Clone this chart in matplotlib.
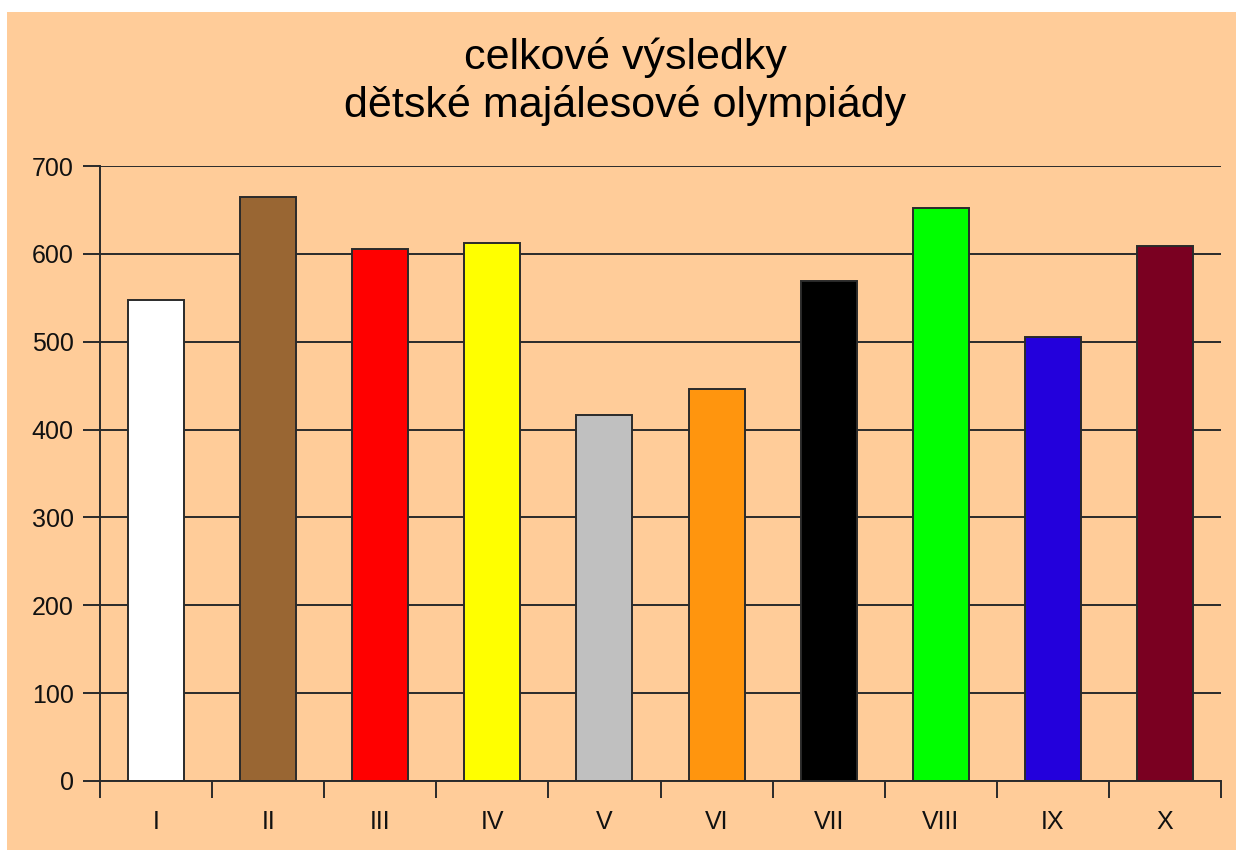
import matplotlib
matplotlib.use("Agg")
import matplotlib.pyplot as plt
from matplotlib.patches import Rectangle
import numpy as np

categories = ["I", "II", "III", "IV", "V", "VI", "VII", "VIII", "IX", "X"]
scores = [548, 665, 606, 612, 417, 446, 569, 652, 505, 609]
bar_colors = ["#FFFFFF", "#996633", "#FF0000", "#FFFF00", "#C0C0C0",
              "#FF950E", "#000000", "#00FF00", "#2300DC", "#7A0021"]
title_lines = ["celkové výsledky", "dětské majálesové olympiády"]
y_ticks = [0, 100, 200, 300, 400, 500, 600, 700]

plt.rcParams['font.family'] = ['Liberation Sans', 'DejaVu Sans']

W, H = 1236, 850
fig = plt.figure(figsize=(W / 100, H / 100), dpi=100)
fig.patch.set_facecolor("white")
bg = "#FFCC99"
fig.patches.append(Rectangle((7 / W, 0), 1 - 7 / W, (H - 12) / H,
                             transform=fig.transFigure, facecolor=bg,
                             edgecolor="none", zorder=-10))

ax = fig.add_axes([100 / W, (H - 781) / H, (1221 - 100) / W, (781 - 166) / H])
ax.set_facecolor(bg)
ax.patch.set_alpha(0)

line_col = "#2a2a2a"
x = np.arange(len(categories))
ax.bar(x, scores, width=0.5, color=bar_colors, edgecolor=line_col,
       linewidth=1.4, zorder=3)

ax.set_xlim(-0.5, len(categories) - 0.5)
ax.set_ylim(0, 700)

ax.set_yticks(y_ticks)
ax.set_yticklabels([str(v) for v in y_ticks], fontsize=18, color="#111111")
ax.yaxis.grid(True, color=line_col, linewidth=1.4, zorder=1)
ax.tick_params(axis="y", direction="out", length=12, width=1.4,
               color=line_col, pad=7)

ax.set_xticks(np.arange(len(categories) + 1) - 0.5)
ax.set_xticklabels([])
ax.tick_params(axis="x", which="major", direction="out", length=12,
               width=1.4, color=line_col)
ax.set_xticks(x, minor=True)
ax.set_xticklabels(categories, minor=True, fontsize=18, color="#111111")
ax.tick_params(axis="x", which="minor", length=0, pad=21)

for s in ("top", "right"):
    ax.spines[s].set_visible(False)
for s in ("left", "bottom"):
    ax.spines[s].set_color(line_col)
    ax.spines[s].set_linewidth(1.4)
    ax.spines[s].set_zorder(4)

fig.text(625 / W, 1 - 58 / H, title_lines[0], ha="center", va="center",
         fontsize=31, color="#000000")
fig.text(625 / W, 1 - 105 / H, title_lines[1], ha="center", va="center",
         fontsize=31, color="#000000")

fig.savefig("out.png", dpi=100, facecolor=fig.get_facecolor())
